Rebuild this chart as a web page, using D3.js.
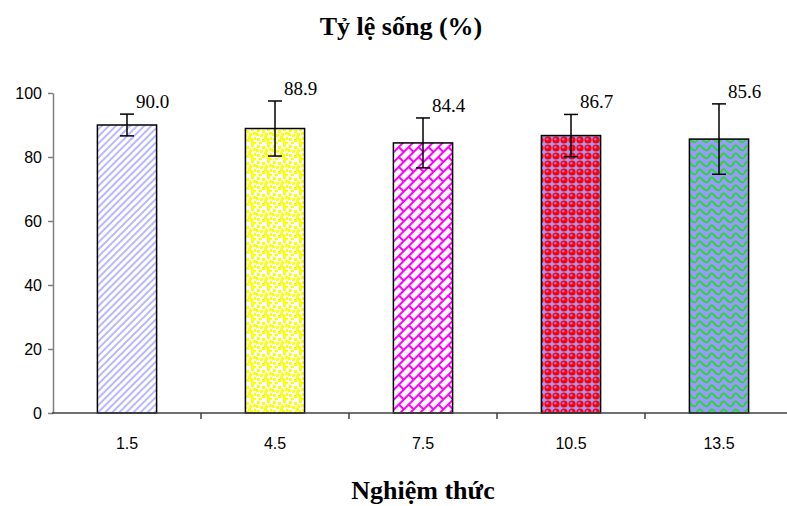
<!DOCTYPE html>
<html><head><meta charset="utf-8">
<script src="https://cdn.jsdelivr.net/npm/d3@7"></script>
<style>body{margin:0;background:#fff}</style>
</head><body>
<svg id="c" width="787" height="506"></svg>
<script>
const categories = ["1.5", "4.5", "7.5", "10.5", "13.5"];
const values = [90.0, 88.9, 84.4, 86.7, 85.6];
const errors = [3.4, 8.6, 7.8, 6.6, 11.0];
const yTicks = [0, 20, 40, 60, 80, 100];
const labels = ["90.0", "88.9", "84.4", "86.7", "85.6"];
const title = "Tỷ lệ sống (%)";
const xTitle = "Nghiệm thức";

(function(){
const svg = d3.select("#c");
const defs = svg.append("defs");
const mLeft = 53, mRight = 793, mTop = 93, mBottom = 413;
const serif = "'Liberation Serif', 'Times New Roman', serif";
const sans = "'Liberation Sans', Arial, sans-serif";

// patterns
let p = defs.append("pattern").attr("id","p0").attr("patternUnits","userSpaceOnUse").attr("width",5).attr("height",5).attr("patternTransform","rotate(45)");
p.append("rect").attr("width",5).attr("height",5).attr("fill","#fff");
p.append("rect").attr("width",2).attr("height",5).attr("fill","#b8b8ff");

p = defs.append("pattern").attr("id","p1").attr("patternUnits","userSpaceOnUse").attr("width",16).attr("height",16);
p.append("rect").attr("width",16).attr("height",16).attr("fill","#fff");
[[1,1],[6,2],[11,0],[4,6],[9,5],[14,9],[1,10],[6,11],[11,13],[3,14],[13,4],[8,8],[0,5],[14,14],[10,10]].forEach(([x,y])=>{
  p.append("rect").attr("x",x).attr("y",y).attr("width",3).attr("height",3).attr("fill","#ffff00");
});

p = defs.append("pattern").attr("id","p2").attr("patternUnits","userSpaceOnUse").attr("width",14).attr("height",14).attr("patternTransform","rotate(-45)");
p.append("rect").attr("width",14).attr("height",14).attr("fill","#fff");
p.append("line").attr("x1",0).attr("x2",14).attr("y1",1).attr("y2",1).attr("stroke","#ff00ff").attr("stroke-width",2);
p.append("line").attr("x1",0).attr("x2",14).attr("y1",8).attr("y2",8).attr("stroke","#ff00ff").attr("stroke-width",2);
p.append("line").attr("x1",3).attr("x2",3).attr("y1",1).attr("y2",8).attr("stroke","#ff00ff").attr("stroke-width",2);
p.append("line").attr("x1",10).attr("x2",10).attr("y1",8).attr("y2",15).attr("stroke","#ff00ff").attr("stroke-width",2);

p = defs.append("pattern").attr("id","p3").attr("patternUnits","userSpaceOnUse").attr("width",8).attr("height",8);
p.append("rect").attr("width",8).attr("height",8).attr("fill","#9999ff");
p.append("circle").attr("cx",4).attr("cy",4).attr("r",3.6).attr("fill","#ff0000");
p.append("circle").attr("cx",3.3).attr("cy",3.3).attr("r",1.2).attr("fill","#cc66cc");

p = defs.append("pattern").attr("id","p4").attr("patternUnits","userSpaceOnUse").attr("width",12).attr("height",8);
p.append("rect").attr("width",12).attr("height",8).attr("fill","#9999ff");
p.append("path").attr("d","M0,6 C2,1 4,0.5 6,3 C8,6 10,6.5 12,6").attr("fill","none").attr("stroke","#22dd22").attr("stroke-width",2);

const x = d3.scaleBand().domain(categories).range([mLeft, mRight]).paddingInner(0.6).paddingOuter(0.3);
const y = d3.scaleLinear().domain([0, 100]).range([mBottom, mTop]);

// y axis
const ya = svg.append("g").attr("transform",`translate(${mLeft},0)`)
  .call(d3.axisLeft(y).tickValues(yTicks).tickSize(5).tickPadding(6).tickSizeOuter(0));
ya.select(".domain").attr("stroke","#808080").attr("stroke-width",1.5);
ya.selectAll(".tick line").attr("stroke","#808080").attr("stroke-width",1.5);
ya.selectAll("text").style("font-family",sans).style("font-size","16px").attr("fill","#000");

// bars
svg.append("g").selectAll("rect.bar").data(values).join("rect")
  .attr("class","bar")
  .attr("x",(d,i)=>x(categories[i]))
  .attr("width",x.bandwidth())
  .attr("y",d=>y(d))
  .attr("height",d=>y(0)-y(d))
  .attr("fill",(d,i)=>`url(#p${i})`)
  .attr("stroke","#000").attr("stroke-width",1.5);

// x axis
const xb = d3.scaleLinear().domain([0, categories.length]).range([mLeft, mRight]);
svg.append("line").attr("x1",mLeft-1).attr("x2",787).attr("y1",mBottom).attr("y2",mBottom).attr("stroke","#404040").attr("stroke-width",1.5);
svg.selectAll("line.xt").data(d3.range(1, categories.length)).join("line")
  .attr("class","xt").attr("x1",d=>xb(d)).attr("x2",d=>xb(d)).attr("y1",mBottom).attr("y2",mBottom+6)
  .attr("stroke","#404040").attr("stroke-width",1.5);
svg.selectAll("text.xl").data(categories).join("text")
  .attr("class","xl").attr("x",d=>x(d)+x.bandwidth()/2).attr("y",449)
  .attr("text-anchor","middle").style("font-family",sans).style("font-size","16px").text(d=>d);

// error bars
const eb = svg.append("g").attr("stroke","#000").attr("stroke-width",1.5);
values.forEach((v,i)=>{
  const cx = x(categories[i]) + x.bandwidth()/2;
  eb.append("line").attr("x1",cx).attr("x2",cx).attr("y1",y(v+errors[i])).attr("y2",y(v-errors[i]));
  eb.append("line").attr("x1",cx-7).attr("x2",cx+7).attr("y1",y(v+errors[i])).attr("y2",y(v+errors[i]));
  eb.append("line").attr("x1",cx-7).attr("x2",cx+7).attr("y1",y(v-errors[i])).attr("y2",y(v-errors[i]));
});

// value labels
svg.selectAll("text.vl").data(values).join("text")
  .attr("class","vl")
  .attr("x",(d,i)=>x(categories[i]) + x.bandwidth()/2 + 9)
  .attr("y",(d,i)=>y(d+errors[i]) - 6)
  .style("font-family",serif).style("font-size","19px")
  .text((d,i)=>labels[i]);

// titles
svg.append("text").attr("x",401).attr("y",35).attr("text-anchor","middle")
  .style("font-family",serif).style("font-weight","bold").style("font-size","26px").text(title);
svg.append("text").attr("x",423).attr("y",499).attr("text-anchor","middle")
  .style("font-family",serif).style("font-weight","bold").style("font-size","26px").text(xTitle);
})();
</script>
</body></html>
